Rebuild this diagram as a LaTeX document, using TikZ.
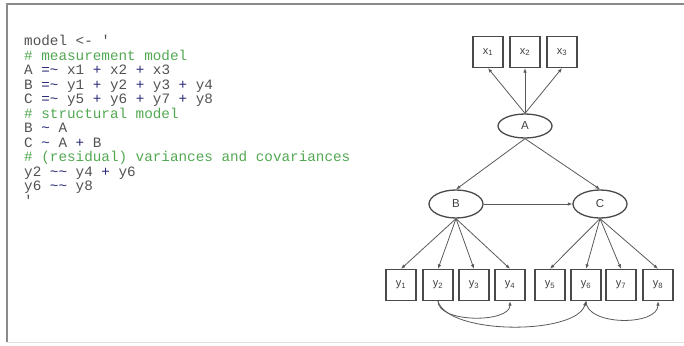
\documentclass[tikz,border=0pt]{standalone}
\usepackage{fontspec}
\newfontfamily\codefont{Liberation Mono}
\newfontfamily\diagfont{Liberation Sans}
\usetikzlibrary{arrows.meta,shapes.geometric}

\definecolor{codetxt}{HTML}{525252}
\definecolor{codeopc}{HTML}{2A2A78}
\definecolor{codecmc}{HTML}{52A852}
\definecolor{edgec}{HTML}{5A5A5A}
\definecolor{boxc}{HTML}{4A4A4A}
\definecolor{framec}{HTML}{8A8A8A}

\newcommand\codeop[1]{\textcolor{codeopc}{#1}}
\newcommand\codecm[1]{\textcolor{codecmc}{#1}}
\newcommand\tl{\textasciitilde}

\begin{document}
\begin{tikzpicture}[x=1pt,y=-1pt,
  codeline/.style={anchor=base west, inner sep=0pt, text=codetxt,
    font=\codefont\fontsize{14.3}{14.5}\selectfont},
  obs/.style={draw=boxc, line width=1.3pt, minimum width=30pt,
    minimum height=31pt, inner sep=0pt, text=black!75,
    font=\diagfont\fontsize{11}{13}\selectfont},
  lat/.style={ellipse, draw=boxc, line width=1.3pt, minimum width=54pt,
    minimum height=28pt, inner sep=0pt, text=black!75,
    font=\diagfont\fontsize{11.5}{13}\selectfont},
  edge/.style={draw=edgec, line width=0.8pt, -{Latex[length=4.5pt,width=3.5pt]}},
]
\useasboundingbox (0,0) rectangle (684,345);

% frame
\draw[framec, line width=1.6pt] (7,342) -- (7,4) -- (684,4);
\draw[black!12, line width=0.8pt] (7,342) -- (684,342);

% lavaan model syntax
\node[codeline] (c1)  at (24,45.5)  {model <- \textquotesingle};
\node[codeline] (c2)  at (24,60)    {\codecm{\# measurement model}};
\node[codeline] (c3)  at (24,74.5)  {A \codeop{=\tl} x1 \codeop{+} x2 \codeop{+} x3};
\node[codeline] (c4)  at (24,89)    {B \codeop{=\tl} y1 \codeop{+} y2 \codeop{+} y3 \codeop{+} y4};
\node[codeline] (c5)  at (24,103.5) {C \codeop{=\tl} y5 \codeop{+} y6 \codeop{+} y7 \codeop{+} y8};
\node[codeline] (c6)  at (24,118)   {\codecm{\# structural model}};
\node[codeline] (c7)  at (24,132.5) {B \codeop{\tl} A};
\node[codeline] (c8)  at (24,147)   {C \codeop{\tl} A \codeop{+} B};
\node[codeline] (c9)  at (24,161.5) {\codecm{\# (residual) variances and covariances}};
\node[codeline] (c10) at (24,176)   {y2 \codeop{\tl\tl} y4 \codeop{+} y6};
\node[codeline] (c11) at (24,190.5) {y6 \codeop{\tl\tl} y8};
\node[codeline] (c12) at (24,205)   {\textquotesingle};

% path diagram: indicators of A
\node[obs] (x1) at (488,52) {x\textsubscript{1}};
\node[obs] (x2) at (525,52) {x\textsubscript{2}};
\node[obs] (x3) at (562,52) {x\textsubscript{3}};

% latent variables
\node[lat, minimum height=24pt] (A) at (525,126) {A};
\node[lat] (B) at (456,204) {B};
\node[lat] (C) at (600,204) {C};

% indicators of B and C
\node[obs] (y1) at (401,285) {y\textsubscript{1}};
\node[obs] (y2) at (438,285) {y\textsubscript{2}};
\node[obs] (y3) at (474,285) {y\textsubscript{3}};
\node[obs] (y4) at (510,285) {y\textsubscript{4}};
\node[obs] (y5) at (550,285) {y\textsubscript{5}};
\node[obs] (y6) at (586,285) {y\textsubscript{6}};
\node[obs] (y7) at (621,285) {y\textsubscript{7}};
\node[obs] (y8) at (658,285) {y\textsubscript{8}};

% loadings
\foreach \t in {x1,x2,x3} \draw[edge] (A.north) -- (\t.south);
\foreach \t in {y1,y2,y3,y4} \draw[edge] (B.south) -- (\t.north);
\foreach \t in {y5,y6,y7,y8} \draw[edge] (C.south) -- (\t.north);

% regressions
\draw[edge] (A.south) -- (B.north);
\draw[edge] (A.south) -- (C.north);
\draw[edge] (B.east) -- (C.west);

% residual covariances
\draw[edge] (y2.south) .. controls +(0,22) and +(0,22) .. (y4.south);
\draw[edge] (y2.south) .. controls +(10,34) and +(-10,34) .. (y6.south);
\draw[edge] (y6.south) .. controls +(0,25) and +(0,25) .. (y8.south);
\end{tikzpicture}
\end{document}
